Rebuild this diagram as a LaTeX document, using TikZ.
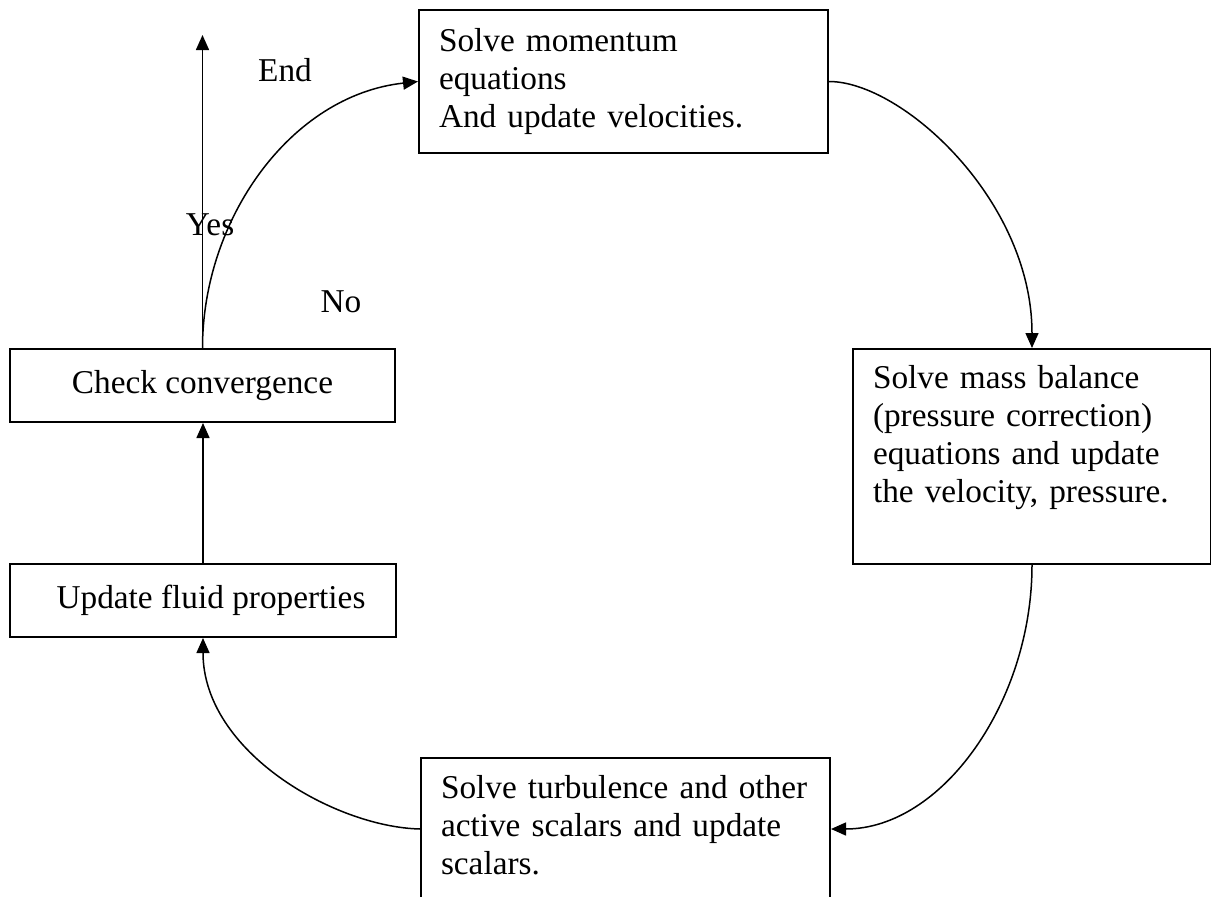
\documentclass[tikz,border=0pt]{standalone}
\usepackage{fontspec}
\setmainfont{Liberation Serif}
\usetikzlibrary{arrows.meta}
\begin{document}
\begin{tikzpicture}[x=1pt,y=-1pt,
  every node/.style={font=\fontsize{33.3}{38}\selectfont},
  box/.style={draw, line width=2pt, anchor=north west, inner xsep=20pt, inner ysep=0pt, align=left},
  conn/.style={line width=1.5pt, -{Triangle[length=15pt,width=13pt]}},
  lbl/.style={inner sep=0pt}]
\useasboundingbox (0,0) rectangle (1211,897);
\clip (0,0) rectangle (1211,897);
% boxes
\node[box, text width=369pt, minimum height=143pt] (mom) at (418,9)
  {\strut Solve momentum\\equations\\And update velocities.\strut};
\node[box, text width=318pt, minimum height=215pt] (mass) at (852,348)
  {\strut Solve mass balance\\(pressure correction)\\equations and update\\the velocity, pressure.\\\strut};
\node[box, text width=369pt, minimum height=142pt] (turb) at (420,757)
  {\strut Solve turbulence and other\\active scalars and update\\scalars.\strut};
\node[box, align=center, minimum width=385pt, minimum height=73pt] (chk) at (9,348)
  {\strut Check convergence};
\node[box, align=center, minimum width=386pt, minimum height=73pt] (fluid) at (9,563)
  {\strut\hspace*{16pt}Update fluid properties};
% labels
\node[lbl] (endl) at (285,70) {End};
\node[lbl] (yesl) at (210,225) {Yes};
\node[lbl] (nol) at (341,302) {No};
\coordinate (endtip) at (201.5,35);
% connectors
\draw[conn] (chk.north) -- (chk.north |- endtip);
\draw[conn] (chk.north) .. controls +(0,-128) and +(-128,14) .. (mom.west);
\draw[conn] (mom.east) .. controls +(73,0) and +(0,-148) .. (mass.north);
\draw[conn] (mass.south) .. controls +(0,137) and +(111,0) .. (turb.east);
\draw[conn] (turb.west) .. controls +(-85,-2) and +(0,114) .. (fluid.south);
\draw[conn] (fluid.north) -- (fluid.north |- chk.south);
\end{tikzpicture}
\end{document}
